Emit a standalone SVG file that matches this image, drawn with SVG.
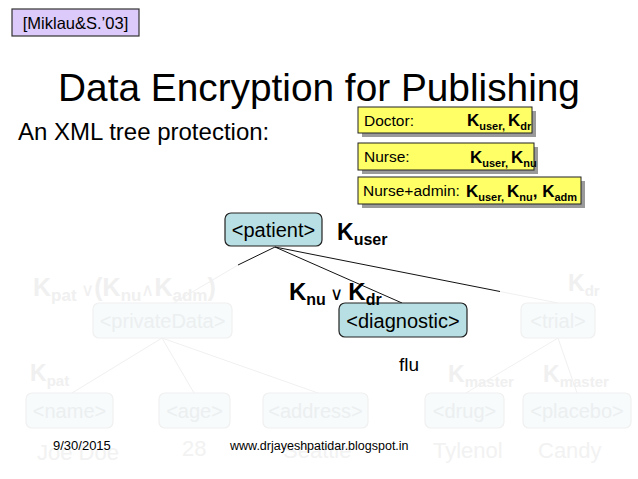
<svg xmlns="http://www.w3.org/2000/svg" width="638" height="479" viewBox="0 0 638 479">
<style>
text{font-family:"Liberation Sans",Arial,sans-serif;}
.node{fill:#b8e0e4;stroke:#222;stroke-width:1.2;}
.fnode{fill:#f7fbfc;stroke:#f0f0f0;stroke-width:1.2;}
.ntxt{font-size:20px;fill:#000;text-anchor:middle;}
.ftxt{font-size:20px;fill:#eceff0;text-anchor:middle;}
.key{font-weight:bold;fill:#000;}
.fkey{font-weight:bold;fill:#f0f0f0;}
.yb{fill:#ffff66;stroke:#222;stroke-width:1;}
.sh{fill:#9a9a9a;}
.yt{font-size:15.5px;fill:#000;}
.fval{font-size:22px;fill:#f2f2f2;}
.edge{stroke:#111;stroke-width:1;fill:none;}
.fedge{stroke:#f0f0f0;stroke-width:1;fill:none;}
</style>
<rect width="638" height="479" fill="#ffffff"/>

<g id="cite">
<rect x="12" y="9" width="127" height="27" fill="#dccbfa" stroke="#333" stroke-width="1.2"/>
<text x="75.5" y="28.5" font-size="16.5" text-anchor="middle">[Miklau&amp;S.’03]</text>
</g>

<g id="title">
<text x="319" y="101" font-size="38.8" text-anchor="middle">Data Encryption for Publishing</text>
<text x="18" y="140" font-size="24">An XML tree protection:</text>
</g>

<g id="connectors">
<line class="fedge" x1="238" y1="265" x2="172" y2="304"/>
<line class="edge" x1="275" y1="247" x2="238" y2="265"/>
<line class="edge" x1="275" y1="247" x2="402" y2="303"/>
<line class="fedge" x1="500" y1="291.5" x2="558" y2="303"/>
<line class="edge" x1="275" y1="247" x2="500" y2="291.5"/>
<line class="fedge" x1="162" y1="338" x2="72" y2="393"/>
<line class="fedge" x1="162" y1="338" x2="194" y2="393"/>
<line class="fedge" x1="162" y1="338" x2="318" y2="393"/>
<line class="fedge" x1="558" y1="338" x2="466" y2="393"/>
<line class="fedge" x1="558" y1="338" x2="577" y2="393"/>
</g>

<g id="doctor">
<rect class="sh" x="362" y="111" width="174" height="26"/>
<rect class="yb" x="358" y="107" width="174" height="26"/>
<text class="yt" x="364" y="126">Doctor:</text>
<text x="467" y="126" class="key" font-size="17">K<tspan font-size="11" dy="4">user, </tspan><tspan dy="-4">K</tspan><tspan font-size="11" dy="4">dr</tspan></text>
</g>
<g id="nurse">
<rect class="sh" x="362" y="147" width="176" height="27"/>
<rect class="yb" x="358" y="143" width="176" height="27"/>
<text class="yt" x="364" y="162">Nurse:</text>
<text x="470" y="163" class="key" font-size="17">K<tspan font-size="11" dy="4">user, </tspan><tspan dy="-4">K</tspan><tspan font-size="11" dy="4">nu</tspan></text>
</g>
<g id="nurseadmin">
<rect class="sh" x="362" y="181" width="223" height="27"/>
<rect class="yb" x="358" y="177" width="223" height="27"/>
<text class="yt" x="363" y="196">Nurse+admin:</text>
<text x="466" y="197" class="key" font-size="17">K<tspan font-size="11" dy="4">user, </tspan><tspan dy="-4">K</tspan><tspan font-size="11" dy="4">nu</tspan><tspan dy="-4">, K</tspan><tspan font-size="11" dy="4">adm</tspan></text>
</g>

<g id="patient">
<rect class="node" x="225" y="213" width="97" height="33" rx="6"/>
<text class="ntxt" x="273.5" y="237">&lt;patient&gt;</text>
<text x="337" y="240" class="key" font-size="23">K<tspan font-size="16" dy="5">user</tspan></text>
</g>

<g id="privateData">
<rect class="fnode" x="93" y="303" width="139" height="35" rx="6"/>
<text class="ftxt" x="162.5" y="328">&lt;privateData&gt;</text>
<text x="33" y="296" class="fkey" font-size="25">K<tspan font-size="17" dy="5">pat </tspan><tspan dy="-5" font-weight="normal" font-size="18">∨</tspan><tspan font-size="25">(K</tspan><tspan font-size="17" dy="5">nu</tspan><tspan dy="-5" font-weight="normal" font-size="18">∧</tspan><tspan font-size="25">K</tspan><tspan font-size="17" dy="5">adm</tspan><tspan font-size="25" dy="-5">)</tspan></text>
</g>

<g id="diagnostic">
<rect class="node" x="339" y="303" width="128" height="34" rx="6"/>
<text class="ntxt" x="403" y="328">&lt;diagnostic&gt;</text>
<text x="289" y="300" class="key" font-size="24">K<tspan font-size="16" dy="5">nu </tspan><tspan dy="-5" font-weight="normal" font-size="18">∨ </tspan><tspan>K</tspan><tspan font-size="16" dy="5">dr</tspan></text>
<text x="399" y="371" font-size="19">flu</text>
</g>

<g id="trial">
<rect class="fnode" x="521" y="303" width="74" height="35" rx="6"/>
<text class="ftxt" x="558" y="328">&lt;trial&gt;</text>
<text x="568" y="291" class="fkey" font-size="23">K<tspan font-size="15" dy="5">dr</tspan></text>
</g>

<g id="name">
<rect class="fnode" x="26" y="393" width="87" height="35" rx="6"/>
<text class="ftxt" x="69.5" y="418">&lt;name&gt;</text>
<text x="30" y="381" class="fkey" font-size="23">K<tspan font-size="15" dy="5">pat</tspan></text>
<text class="fval" x="37" y="460">Joe Doe</text>
</g>
<g id="age">
<rect class="fnode" x="159" y="393" width="71" height="35" rx="6"/>
<text class="ftxt" x="194.5" y="418">&lt;age&gt;</text>
<text class="fval" x="182" y="456">28</text>
</g>
<g id="address">
<rect class="fnode" x="263" y="393" width="105" height="35" rx="6"/>
<text class="ftxt" x="315.5" y="418">&lt;address&gt;</text>
<text class="fval" x="283" y="458">Seattle</text>
</g>
<g id="drug">
<rect class="fnode" x="425" y="393" width="79" height="35" rx="6"/>
<text class="ftxt" x="464.5" y="418">&lt;drug&gt;</text>
<text x="448" y="382" class="fkey" font-size="23">K<tspan font-size="15" dy="5">master</tspan></text>
<text class="fval" x="433" y="458">Tylenol</text>
</g>
<g id="placebo">
<rect class="fnode" x="523" y="393" width="108" height="35" rx="6"/>
<text class="ftxt" x="577" y="418">&lt;placebo&gt;</text>
<text x="543" y="382" class="fkey" font-size="23">K<tspan font-size="15" dy="5">master</tspan></text>
<text class="fval" x="538" y="458">Candy</text>
</g>

<g id="footer">
<text x="53" y="450" font-size="13">9/30/2015</text>
<text x="230" y="450" font-size="12.5">www.drjayeshpatidar.blogspot.in</text>
</g>
</svg>
